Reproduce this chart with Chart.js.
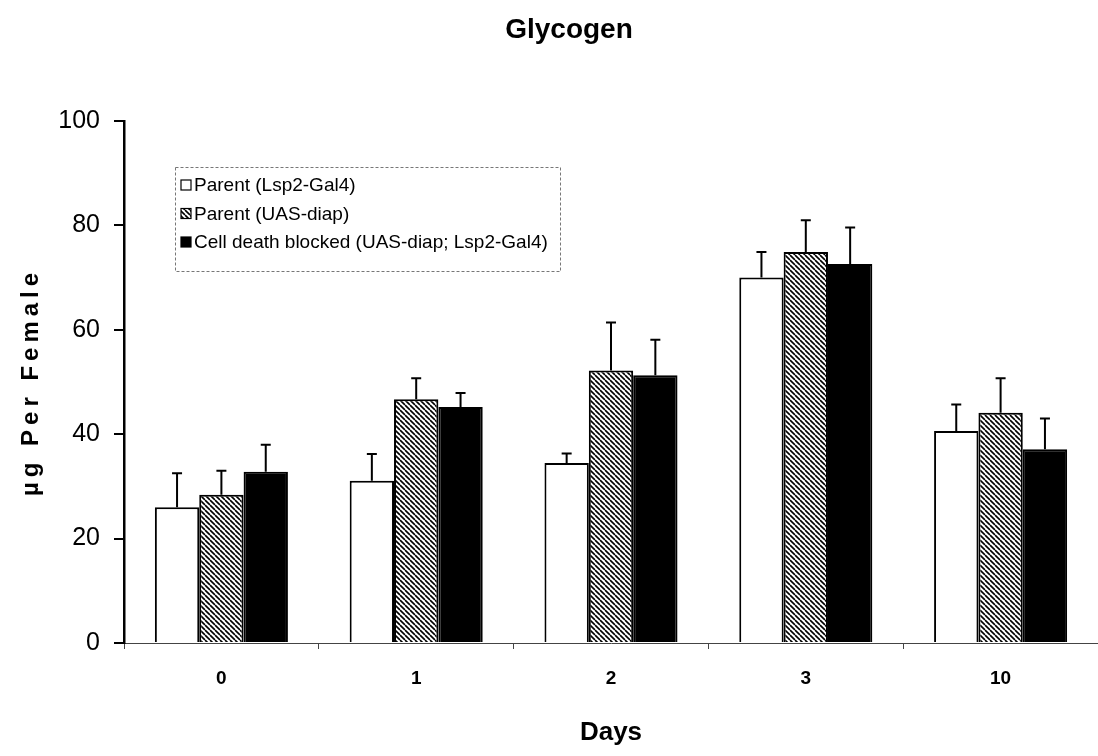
<!DOCTYPE html>
<html>
<head>
<meta charset="utf-8">
<script src="https://cdn.jsdelivr.net/npm/chart.js@4.4.1/dist/chart.umd.min.js"></script>
<style>
  body { margin: 0; background: #fff; }
  #grafico { display: block; }
</style>
</head>
<body>
<canvas id="grafico" width="1098" height="756"></canvas>
<script>
// dados (Glycogen)
var dias = ['0', '1', '2', '3', '10']
var parentLsp = [26.0, 31.1, 34.5, 70.0, 40.6]
var parentUas = [28.4, 46.7, 52.2, 74.9, 44.1]
var bloqueado = [32.8, 45.2, 51.3, 72.6, 37.1]
var erroLsp = [6.5, 5.1, 1.8, 4.9, 5.1]
var erroUas = [4.6, 4.0, 9.2, 6.1, 6.6]
var erroBloq = [5.2, 2.7, 6.8, 7.0, 5.9]
var nomes = ['Parent (Lsp2-Gal4)', 'Parent (UAS-diap)', 'Cell death blocked (UAS-diap; Lsp2-Gal4)']
var ticksY = [0, 20, 40, 60, 80, 100]

var fonte = '"Liberation Sans", Arial, sans-serif'
var canvas = document.getElementById('grafico')
var ctx = canvas.getContext('2d')

function listras() {
  var t = document.createElement('canvas')
  t.width = 5
  t.height = 5
  var g = t.getContext('2d')
  g.fillStyle = '#fff'
  g.fillRect(0, 0, 5, 5)
  g.strokeStyle = '#000'
  g.lineWidth = 1.6
  g.beginPath()
  for (var k = -5; k <= 5; k += 5) {
    g.moveTo(k, 0)
    g.lineTo(k + 5, 5)
  }
  g.stroke()
  return ctx.createPattern(t, 'repeat')
}
var hachura = listras()

// barras de erro (so para cima)
var barrasErro = {
  id: 'barrasErro',
  afterDatasetsDraw: function (chart) {
    var c = chart.ctx
    var y = chart.scales.y
    c.save()
    c.strokeStyle = '#000'
    c.lineWidth = 2
    chart.data.datasets.forEach(function (ds, i) {
      var meta = chart.getDatasetMeta(i)
      meta.data.forEach(function (barra, j) {
        var topo = y.getPixelForValue(ds.data[j] + ds.erros[j])
        c.beginPath()
        c.moveTo(barra.x, barra.y)
        c.lineTo(barra.x, topo)
        c.moveTo(barra.x - 5, topo)
        c.lineTo(barra.x + 5, topo)
        c.stroke()
      })
    })
    c.restore()
  }
}

// titulo, titulo do eixo y e legenda desenhados a mao
var textos = {
  id: 'textos',
  afterDraw: function (chart) {
    var c = chart.ctx
    c.save()
    c.fillStyle = '#000'
    c.textAlign = 'center'
    c.textBaseline = 'middle'
    c.font = 'bold 28px ' + fonte
    c.fillText('Glycogen', 569, 30)

    c.translate(31, 382)
    c.rotate(-Math.PI / 2)
    c.font = 'bold 24px ' + fonte
    c.letterSpacing = '5px'
    c.fillText('\u00b5g Per Female', 0, 0)
    c.restore()

    // legenda
    c.save()
    c.strokeStyle = '#777'
    c.lineWidth = 1
    c.setLineDash([3, 2])
    c.strokeRect(175.5, 167.5, 385, 104)
    c.setLineDash([])
    c.font = '19px ' + fonte
    c.textBaseline = 'middle'
    c.textAlign = 'left'
    chart.data.datasets.forEach(function (ds, i) {
      var yy = 185 + i * 28.5
      c.fillStyle = ds.backgroundColor
      c.fillRect(181, yy - 5, 10, 10)
      c.strokeStyle = '#000'
      c.lineWidth = 1.2
      c.strokeRect(181, yy - 5, 10, 10)
      c.fillStyle = '#000'
      c.fillText(ds.label, 194, yy + 1)
    })
    c.restore()
  }
}

var dados = {
  labels: dias,
  datasets: [
    { label: nomes[0], data: parentLsp, erros: erroLsp, backgroundColor: '#fff', borderColor: '#000', borderWidth: 2 },
    { label: nomes[1], data: parentUas, erros: erroUas, backgroundColor: hachura, borderColor: '#000', borderWidth: 2 },
    { label: nomes[2], data: bloqueado, erros: erroBloq, backgroundColor: '#000', borderColor: '#000', borderWidth: 2 }
  ]
}

var grafico = new Chart(canvas, {
  type: 'bar',
  data: dados,
  options: {
    responsive: false,
    animation: false,
    devicePixelRatio: 1,
    categoryPercentage: 0.683,
    barPercentage: 1.0,
    layout: { padding: { top: 121, left: 0, right: 0, bottom: 0 } },
    plugins: {
      legend: { display: false },
      title: { display: false },
      tooltip: { enabled: false }
    },
    scales: {
      x: {
        grid: { drawOnChartArea: false, tickLength: 6, color: '#444', offset: true },
        border: { color: '#444', width: 1 },
        ticks: { color: '#000', padding: 18, font: { family: fonte, size: 19, weight: 'bold' } },
        title: {
          display: true, text: 'Days', color: '#000',
          padding: { top: 0, bottom: 8 },
          font: { family: fonte, size: 26, weight: 'bold' }
        },
        afterFit: function (escala) { escala.height = 113 }
      },
      y: {
        min: 0,
        max: 100,
        afterBuildTicks: function (escala) {
          escala.ticks = ticksY.map(function (v) { return { value: v } })
        },
        grid: { drawOnChartArea: false, tickLength: 10, color: '#000', lineWidth: 2 },
        border: { color: '#000', width: 2.5 },
        ticks: { color: '#000', padding: 14, font: { family: fonte, size: 25 } },
        afterFit: function (escala) { escala.width = 124 }
      }
    }
  },
  plugins: [barrasErro, textos]
})
</script>
</body>
</html>
